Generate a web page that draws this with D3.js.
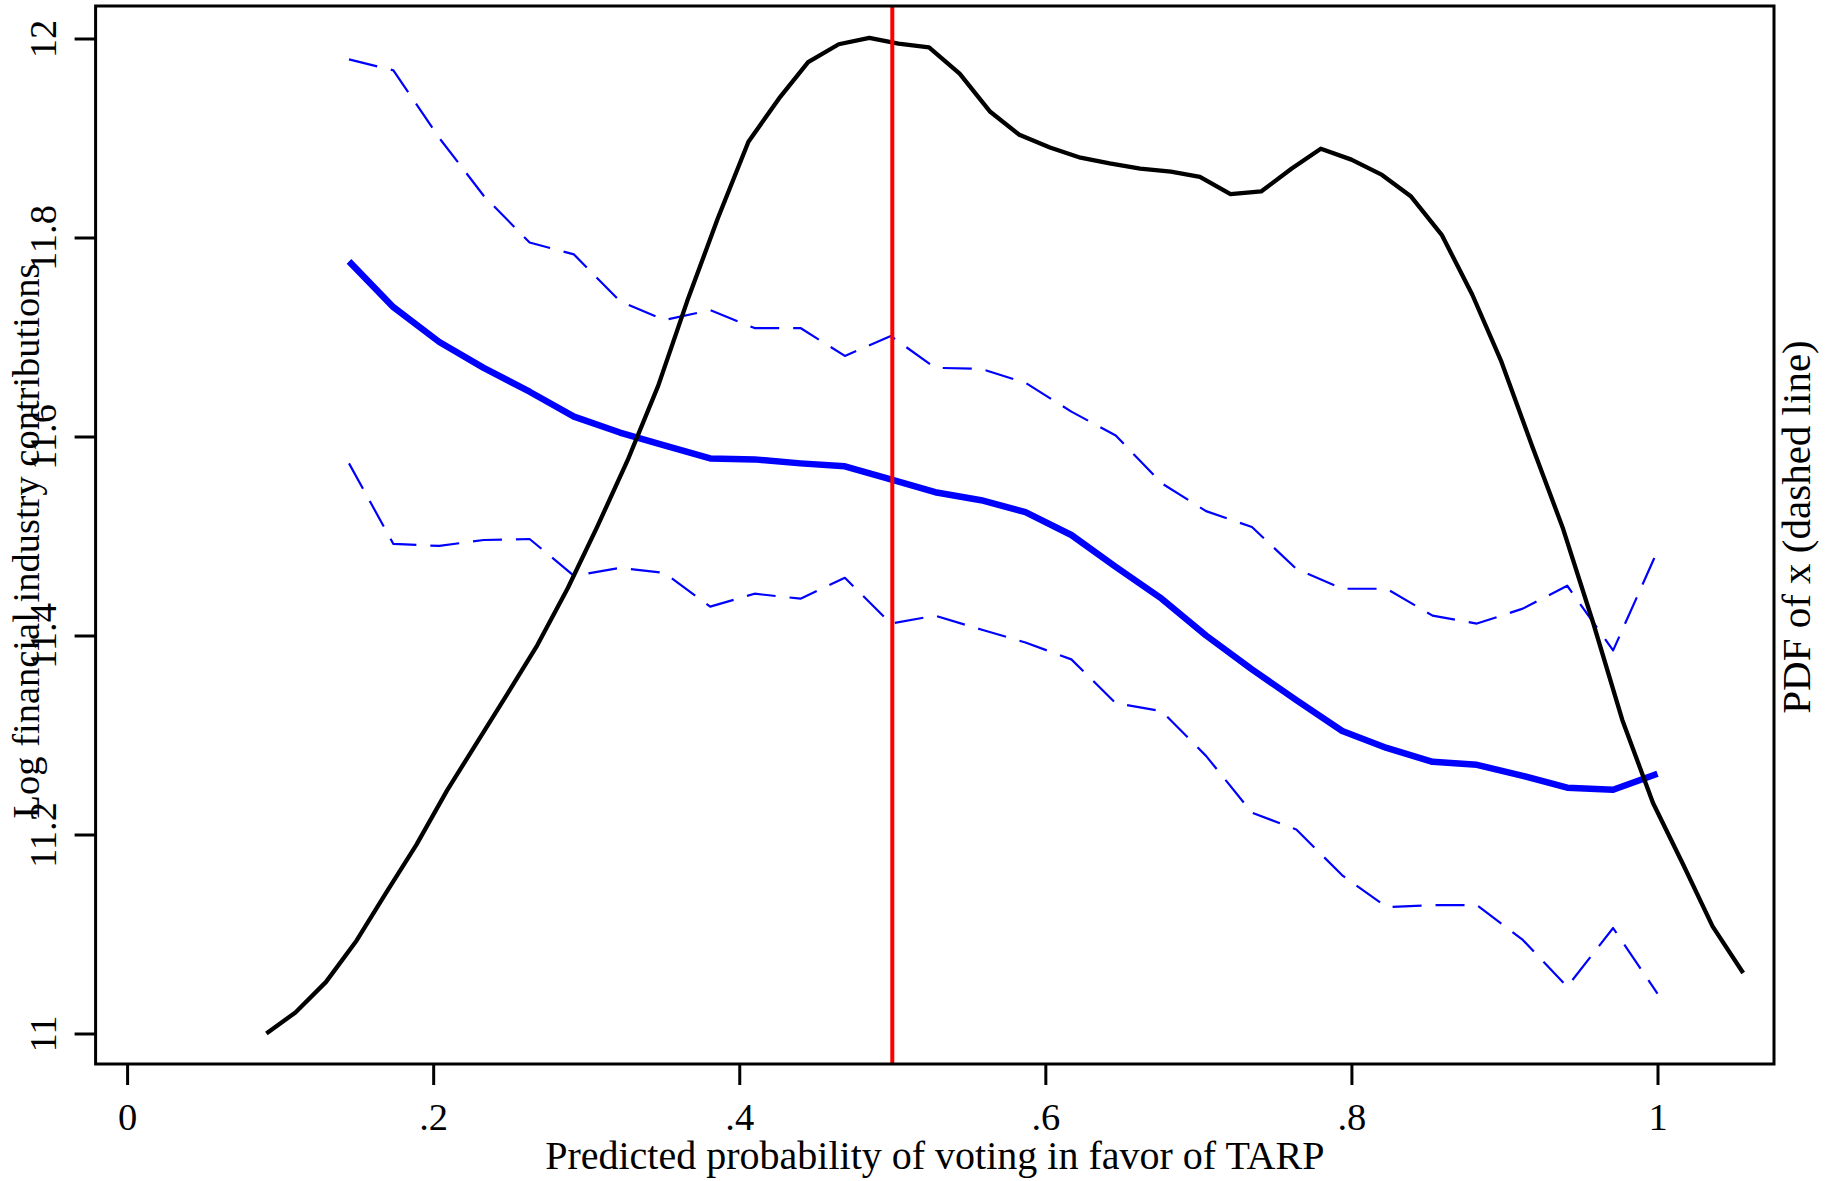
<!DOCTYPE html>
<html>
<head>
<meta charset="utf-8">
<script src="https://cdn.jsdelivr.net/npm/d3@7"></script>
<style>
  html, body { margin: 0; padding: 0; background: #ffffff; }
  svg { display: block; }
  text { font-family: "Liberation Serif", "Times New Roman", serif; fill: #000; }
</style>
</head>
<body>
<svg id="chart" width="1829" height="1181"></svg>
<script>
// Kernel density of the predicted probability (drawn on its own, unlabeled right axis)
const pdfX = [0.091, 0.110, 0.130, 0.150, 0.169, 0.189, 0.209, 0.229, 0.248, 0.268,
              0.288, 0.307, 0.327, 0.347, 0.366, 0.386, 0.406, 0.426, 0.445, 0.465,
              0.485, 0.504, 0.524, 0.544, 0.564, 0.583, 0.603, 0.623, 0.642, 0.662,
              0.682, 0.701, 0.721, 0.741, 0.761, 0.780, 0.800, 0.820, 0.839, 0.859,
              0.879, 0.898, 0.918, 0.938, 0.958, 0.977, 0.997, 1.017, 1.036, 1.056];
const pdfY = [0.050, 0.083, 0.131, 0.196, 0.270, 0.346, 0.431, 0.508, 0.581, 0.659,
              0.749, 0.844, 0.949, 1.066, 1.199, 1.329, 1.449, 1.517, 1.574, 1.602,
              1.612, 1.603, 1.597, 1.556, 1.496, 1.460, 1.440, 1.424, 1.415, 1.407,
              1.402, 1.394, 1.367, 1.371, 1.407, 1.438, 1.421, 1.397, 1.363, 1.303,
              1.209, 1.104, 0.972, 0.844, 0.694, 0.542, 0.412, 0.314, 0.218, 0.145];
const pdfRange = [0.050, 1.611];

// Local fit of log contributions with its confidence band
const fitX = [0.145, 0.174, 0.204, 0.233, 0.263, 0.292, 0.322, 0.351, 0.381, 0.410,
              0.440, 0.469, 0.499, 0.528, 0.558, 0.587, 0.617, 0.646, 0.676, 0.705,
              0.735, 0.764, 0.794, 0.823, 0.853, 0.882, 0.912, 0.941, 0.971, 1.000];
const fitY = [11.776, 11.730, 11.695, 11.669, 11.645, 11.620, 11.604, 11.591, 11.578, 11.577,
              11.573, 11.570, 11.557, 11.544, 11.536, 11.524, 11.501, 11.469, 11.437, 11.400,
              11.366, 11.335, 11.304, 11.287, 11.273, 11.270, 11.259, 11.247, 11.245, 11.261];
const ciUpper = [11.979, 11.968, 11.900, 11.842, 11.795, 11.783, 11.736, 11.717, 11.727, 11.709,
                 11.709, 11.681, 11.701, 11.669, 11.668, 11.654, 11.625, 11.601, 11.553, 11.525,
                 11.509, 11.467, 11.447, 11.447, 11.420, 11.412, 11.427, 11.450, 11.385, 11.485];
const ciLower = [11.573, 11.492, 11.490, 11.496, 11.497, 11.460, 11.468, 11.463, 11.429, 11.442,
                 11.437, 11.458, 11.412, 11.420, 11.406, 11.393, 11.376, 11.332, 11.324, 11.279,
                 11.222, 11.205, 11.159, 11.127, 11.129, 11.129, 11.094, 11.047, 11.106, 11.040];

const xTicks = [0, 0.2, 0.4, 0.6, 0.8, 1];
const xTickLabels = ["0", ".2", ".4", ".6", ".8", "1"];
const yTicks = [11, 11.2, 11.4, 11.6, 11.8, 12];
const yTickLabels = ["11", "11.2", "11.4", "11.6", "11.8", "12"];
const cutoff = 0.5;

const xTitle = "Predicted probability of voting in favor of TARP";
const yTitle = "Log financial industry contributions";
const y2Title = "PDF of x (dashed line)";

// Plot region (framed box)
const frame = { left: 95.6, right: 1774, top: 6, bottom: 1064 };
const serif = "'Liberation Serif', 'Times New Roman', serif";
const tickFont = 38.5;

const svg = d3.select("#chart");

const x = d3.scaleLinear().domain([0, 1]).range([127.1, 1657.5]);
const y = d3.scaleLinear().domain([11, 12]).range([1033.5, 38.5]);
const y2 = d3.scaleLinear().domain(pdfRange).range([y(11), y(12)]);

const line = d3.line().x(d => x(d[0])).y(d => d[1]);

const fitPts = fitX.map((v, i) => [v, y(fitY[i])]);
const upPts = fitX.map((v, i) => [v, y(ciUpper[i])]);
const loPts = fitX.map((v, i) => [v, y(ciLower[i])]);
const pdfPts = pdfX.map((v, i) => [v, y2(pdfY[i])]);

// Confidence band
[upPts, loPts].forEach(pts => {
  svg.append("path")
    .attr("d", line(pts))
    .attr("fill", "none")
    .attr("stroke", "#0000ff")
    .attr("stroke-width", 2.2)
    .attr("stroke-dasharray", "29,14")
    .attr("stroke-linejoin", "round");
});

// Fitted line
svg.append("path")
  .attr("d", line(fitPts))
  .attr("fill", "none")
  .attr("stroke", "#0000ff")
  .attr("stroke-width", 6.5)
  .attr("stroke-linejoin", "round");

// Density
svg.append("path")
  .attr("d", line(pdfPts))
  .attr("fill", "none")
  .attr("stroke", "#000000")
  .attr("stroke-width", 4.3)
  .attr("stroke-linejoin", "round");

// Cut-off line at one half
svg.append("line")
  .attr("x1", x(cutoff)).attr("x2", x(cutoff))
  .attr("y1", frame.top).attr("y2", frame.bottom)
  .attr("stroke", "#ff0000").attr("stroke-width", 4);

// Frame
svg.append("rect")
  .attr("x", frame.left).attr("y", frame.top)
  .attr("width", frame.right - frame.left)
  .attr("height", frame.bottom - frame.top)
  .attr("fill", "none").attr("stroke", "#000").attr("stroke-width", 3);

// Bottom axis
const xAxis = svg.append("g")
  .attr("transform", `translate(0,${frame.bottom})`)
  .call(d3.axisBottom(x).tickValues(xTicks)
        .tickFormat((d, i) => xTickLabels[i]).tickSize(21));
xAxis.attr("font-family", serif);
xAxis.select(".domain").remove();
xAxis.selectAll("line").attr("stroke", "#000").attr("stroke-width", 3);
xAxis.selectAll("text")
  .attr("y", 66).attr("dy", 0)
  .attr("font-family", serif)
  .style("font-family", serif)
  .style("font-size", tickFont + "px");

// Left axis with vertical labels
const yAxis = svg.append("g")
  .attr("transform", `translate(${frame.left},0)`)
  .call(d3.axisLeft(y).tickValues(yTicks)
        .tickFormat((d, i) => yTickLabels[i]).tickSize(21));
yAxis.attr("font-family", serif);
yAxis.select(".domain").remove();
yAxis.selectAll("line").attr("stroke", "#000").attr("stroke-width", 3);
yAxis.selectAll("text")
  .attr("x", 0).attr("dy", 0)
  .attr("transform", "translate(-40,0) rotate(-90)")
  .attr("text-anchor", "middle")
  .attr("font-family", serif)
  .style("font-family", serif)
  .style("font-size", tickFont + "px");

// Axis titles
svg.append("text")
  .attr("x", (frame.left + frame.right) / 2).attr("y", 1169)
  .attr("text-anchor", "middle")
  .style("font-family", serif)
  .style("font-size", "40px")
  .text(xTitle);

svg.append("text")
  .attr("transform", "translate(38.5,541) rotate(-90)")
  .attr("text-anchor", "middle")
  .style("font-family", serif)
  .style("font-size", "38.5px")
  .text(yTitle);

svg.append("text")
  .attr("transform", "translate(1810,527) rotate(-90)")
  .attr("text-anchor", "middle")
  .style("font-family", serif)
  .style("font-size", "41px")
  .text(y2Title);
</script>
</body>
</html>
